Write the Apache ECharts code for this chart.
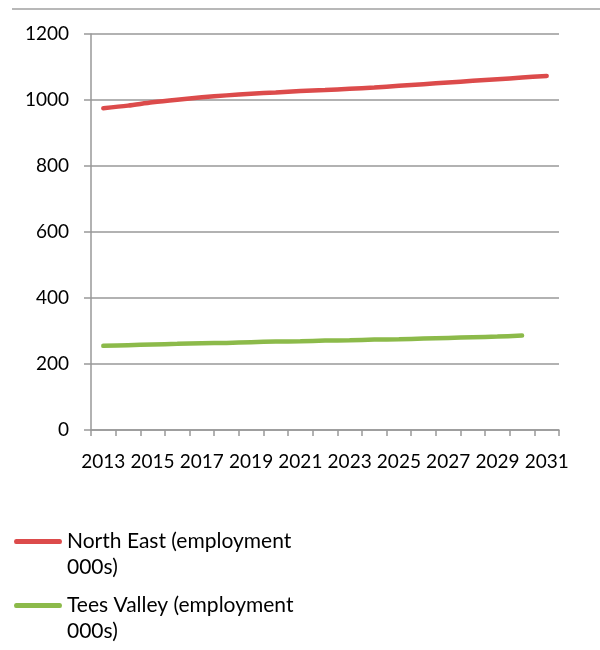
<!DOCTYPE html>
<html>
<head>
<meta charset="utf-8">
<script src="https://cdn.jsdelivr.net/npm/echarts@6/dist/echarts.min.js"></script>
<style>
  html, body { margin: 0; padding: 0; background: #fff; }
  #main { width: 600px; height: 650px; }
</style>
</head>
<body>
<div id="main"></div>
<script>
    // data
    var years = ['2013', '2014', '2015', '2016', '2017', '2018', '2019', '2020', '2021', '2022',
                 '2023', '2024', '2025', '2026', '2027', '2028', '2029', '2030', '2031'];
    var northEast = [975, 983, 993, 1001, 1008, 1014, 1019, 1023, 1027, 1030,
                     1034, 1038, 1043, 1048, 1053, 1058, 1063, 1068, 1073];
    var teesValley = [255, 257, 259, 261, 263, 264, 266, 268, 269, 271,
                      272, 274, 275, 277, 279, 281, 283, 286, null];
    var seriesNames = ['North East (employment 000s)', 'Tees Valley (employment 000s)'];

    var chartDom = document.getElementById('main');
    var myChart = echarts.init(chartDom);

    var font = 'Lato';
    var axisGray = '#999999';

    // line icon sitting at the top of a 48x30 box, so it lines up with the first text line
    var legendIcon = 'path://M2,0 L46,0 Q48,0 48,2.5 Q48,5 46,5 L2,5 Q0,5 0,2.5 Q0,0 2,0 Z M0,30 L0,30 Z';

    function makeLegend(name, top) {
        return {
            data: [name],
            left: 9,
            top: top,
            orient: 'vertical',
            icon: legendIcon,
            itemWidth: 48,
            itemHeight: 30,
            itemGap: 0,
            textStyle: {
                fontFamily: font,
                fontSize: 21,
                color: '#000',
                lineHeight: 26,
                width: 250,
                overflow: 'break'
            }
        };
    }

    var option = {
        animation: false,
        grid: {
            left: 91,
            right: 41,
            top: 34,
            bottom: 220
        },
        legend: [
            makeLegend(seriesNames[0], 523),
            makeLegend(seriesNames[1], 587)
        ],
        graphic: [{
            type: 'line',
            shape: { x1: 12, y1: 9, x2: 600, y2: 9 },
            style: { stroke: '#a0a0a0', lineWidth: 1.5 }
        }],
        xAxis: {
            type: 'category',
            data: years,
            boundaryGap: true,
            axisLine: { lineStyle: { color: axisGray, width: 1.5 } },
            axisTick: {
                show: true,
                interval: 0,
                length: 6,
                lineStyle: { color: axisGray, width: 1.5 }
            },
            axisLabel: {
                interval: 1,
                margin: 22,
                fontFamily: font,
                fontSize: 19,
                color: '#000'
            },
            splitLine: { show: false }
        },
        yAxis: {
            type: 'value',
            min: 0,
            max: 1200,
            interval: 200,
            axisLine: { show: true, lineStyle: { color: axisGray, width: 1.5 } },
            axisTick: {
                show: true,
                length: 7,
                lineStyle: { color: axisGray, width: 1.5 }
            },
            axisLabel: {
                margin: 22,
                fontFamily: font,
                fontSize: 19,
                color: '#000',
                formatter: function (v) { return String(v); }
            },
            splitLine: { lineStyle: { color: axisGray, width: 1.5 } }
        },
        series: [
            {
                name: seriesNames[0],
                type: 'line',
                data: northEast,
                showSymbol: false,
                symbol: 'none',
                smooth: 0.3,
                itemStyle: { color: '#dc4b4b' },
                lineStyle: { color: '#dc4b4b', width: 4.5, cap: 'round' }
            },
            {
                name: seriesNames[1],
                type: 'line',
                data: teesValley,
                showSymbol: false,
                symbol: 'none',
                smooth: 0.3,
                itemStyle: { color: '#8cba4a' },
                lineStyle: { color: '#8cba4a', width: 4.5, cap: 'round' }
            }
        ]
    };

    myChart.setOption(option);
</script>
</body>
</html>
